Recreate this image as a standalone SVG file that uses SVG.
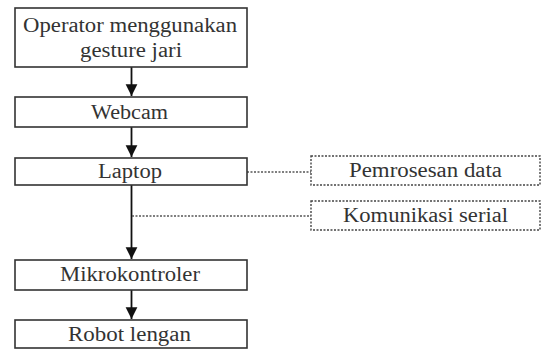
<svg xmlns="http://www.w3.org/2000/svg" width="542" height="350" viewBox="0 0 542 350">
<style>
.box{fill:#fff;stroke:#333;stroke-width:1.6}
.dbox{fill:#fff;stroke:#444;stroke-width:1.4;stroke-dasharray:2 1.5}
.t{font-family:"Liberation Serif","Times New Roman",serif;font-size:20.5px;fill:#333;text-anchor:middle}
.ln{stroke:#111;stroke-width:1.8;fill:none}
.dl{stroke:#555;stroke-width:1.4;stroke-dasharray:2 1.5;fill:none}
</style>
<defs>
<marker id="ah" viewBox="0 0 10 10" refX="10" refY="5" markerWidth="6.5" markerHeight="7" orient="auto" markerUnits="strokeWidth">
<path d="M0,0 L10,5 L0,10 z" fill="#111"/>
</marker>
</defs>
<rect width="542" height="350" fill="#fff"/>
<g id="connectors">
<line class="ln" x1="131.5" y1="67" x2="131.5" y2="96" marker-end="url(#ah)"/>
<line class="ln" x1="131.5" y1="127" x2="131.5" y2="157" marker-end="url(#ah)"/>
<line class="ln" x1="131.5" y1="185" x2="131.5" y2="259" marker-end="url(#ah)"/>
<line class="ln" x1="131.5" y1="290" x2="131.5" y2="319" marker-end="url(#ah)"/>
<line class="dl" x1="247" y1="172" x2="311" y2="172"/>
<line class="dl" x1="132" y1="216" x2="311" y2="216"/>
</g>
<g id="operator">
<rect class="box" x="15" y="8" width="232" height="59"/>
<text class="t" x="130" y="32" textLength="214" lengthAdjust="spacingAndGlyphs">Operator menggunakan</text>
<text class="t" x="131" y="57" textLength="102" lengthAdjust="spacingAndGlyphs">gesture jari</text>
</g>
<g id="webcam">
<rect class="box" x="15" y="97" width="232" height="30"/>
<text class="t" x="129.5" y="119" textLength="77" lengthAdjust="spacingAndGlyphs">Webcam</text>
</g>
<g id="laptop">
<rect class="box" x="15" y="158" width="232" height="27"/>
<text class="t" x="130" y="178" textLength="64" lengthAdjust="spacingAndGlyphs">Laptop</text>
</g>
<g id="mikrokontroler">
<rect class="box" x="15" y="260" width="232" height="30"/>
<text class="t" x="130" y="281" textLength="140" lengthAdjust="spacingAndGlyphs">Mikrokontroler</text>
</g>
<g id="robot">
<rect class="box" x="15" y="320" width="232" height="28"/>
<text class="t" x="129.5" y="341" textLength="123" lengthAdjust="spacingAndGlyphs">Robot lengan</text>
</g>
<g id="pemrosesan">
<rect class="dbox" x="311" y="156" width="229" height="29"/>
<text class="t" x="425.5" y="177" textLength="153" lengthAdjust="spacingAndGlyphs">Pemrosesan data</text>
</g>
<g id="komunikasi">
<rect class="dbox" x="311" y="201" width="229" height="29"/>
<text class="t" x="425.5" y="222" textLength="165" lengthAdjust="spacingAndGlyphs">Komunikasi serial</text>
</g>
</svg>
